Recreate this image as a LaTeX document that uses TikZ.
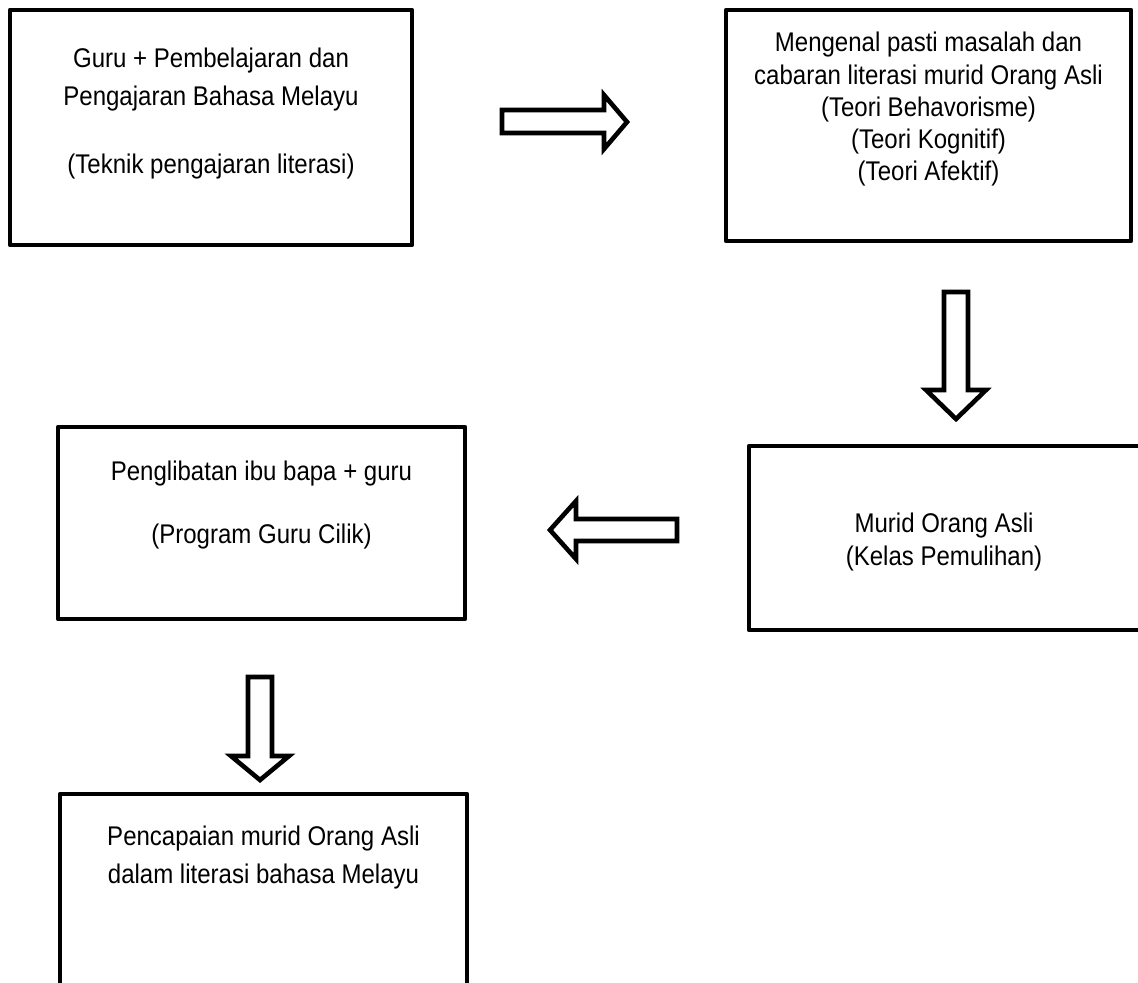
\documentclass[tikz,border=0pt]{standalone}
\usepackage{fontspec}
\setmainfont[FakeStretch=0.89]{Liberation Sans}
\begin{document}
\begin{tikzpicture}[x=0.5pt,y=-0.5pt,
  box/.style={draw=black, line width=2.4pt, line join=round, inner sep=0pt, fill=none},
  txt/.style={inner sep=0pt, anchor=base, font=\fontsize{13.5}{15}\selectfont},
  blockarrow/.style={draw=black, line width=2.3pt, line join=miter, fill=white}]
\useasboundingbox (0,0) rectangle (1138,983);
\fill[white] (0,0) rectangle (1138,983);
\clip (0,0) rectangle (1138,983);

% boxes
\node[box, minimum width=201pt, minimum height=117.5pt] (b1) at (211,127.5) {};
\node[box, minimum width=202.5pt, minimum height=115.5pt] (b2) at (928.5,125.5) {};
\node[box, minimum width=196.5pt, minimum height=92pt] (b3) at (945.5,538) {};
\node[box, minimum width=203.5pt, minimum height=96pt] (b4) at (261.5,523) {};
\node[box, minimum width=203.5pt, minimum height=108pt] (b5) at (263.5,902) {};

% texts
\node[txt] (t1a) at (211,68) {Guru + Pembelajaran dan};
\node[txt] (t1b) at (211,106) {Pengajaran Bahasa Melayu};
\node[txt] (t1c) at (211,174) {(Teknik pengajaran literasi)};

\node[txt] (t2a) at (928.5,52) {Mengenal pasti masalah dan};
\node[txt] (t2b) at (928.5,84.5) {cabaran literasi murid Orang Asli};
\node[txt] (t2c) at (928.5,117) {(Teori Behavorisme)};
\node[txt] (t2d) at (928.5,149) {(Teori Kognitif)};
\node[txt] (t2e) at (928.5,181) {(Teori Afektif)};

\node[txt] (t3a) at (944,532) {Murid Orang Asli};
\node[txt] (t3b) at (944,565) {(Kelas Pemulihan)};

\node[txt] (t4a) at (261.5,480) {Penglibatan ibu bapa + guru};
\node[txt] (t4b) at (261.5,543) {(Program Guru Cilik)};

\node[txt] (t5a) at (263.5,845) {Pencapaian murid Orang Asli};
\node[txt] (t5b) at (263.5,883) {dalam literasi bahasa Melayu};

% block arrows
\draw[blockarrow] (502,110) -- (604,110) -- (604,95) -- (627,122) -- (604,149) -- (604,133) -- (502,133) -- cycle;
\draw[blockarrow] (944,292) -- (968,292) -- (968,390) -- (986,390) -- (956,419) -- (926,390) -- (944,390) -- cycle;
\draw[blockarrow] (677,519) -- (576,519) -- (576,501) -- (550,530) -- (576,559) -- (576,541) -- (677,541) -- cycle;
\draw[blockarrow] (248,677) -- (272,677) -- (272,756) -- (289,756) -- (260,780) -- (231,756) -- (248,756) -- cycle;
\end{tikzpicture}
\end{document}
